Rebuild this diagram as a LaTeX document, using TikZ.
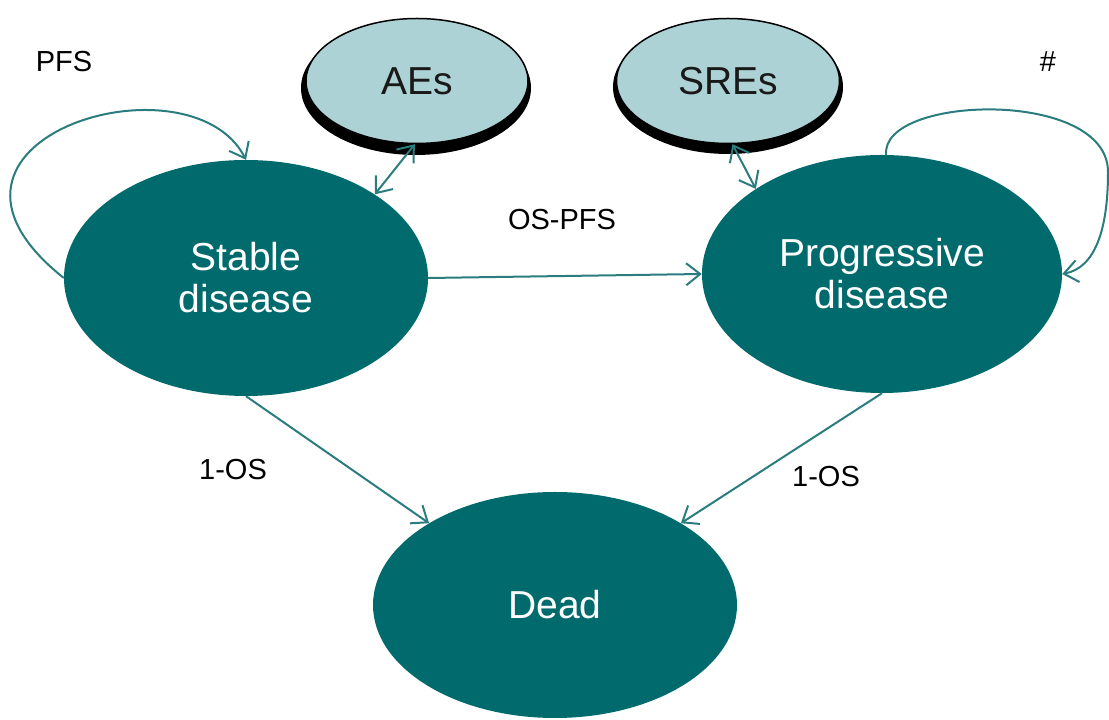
\documentclass[tikz,border=0pt]{standalone}
\usepackage{fontspec}
\setmainfont{Liberation Sans}
\usetikzlibrary{shapes.geometric,arrows.meta}
\definecolor{dteal}{HTML}{006A6C}
\definecolor{lteal}{HTML}{ADD2D6}
\definecolor{ateal}{HTML}{2B7C7E}

\begin{document}
\begin{tikzpicture}[x=1pt,y=1pt,
	state/.style={ellipse,fill=dteal,text=white,align=center,inner sep=0pt,font=\fontsize{39}{42}\selectfont},
	event/.style={ellipse,fill=lteal,draw=black,line width=1.5pt,text=black!90,inner sep=0pt,font=\fontsize{39}{42}\selectfont},
	shad/.style={ellipse,fill=black,inner sep=0pt},
	lbl/.style={font=\fontsize{29}{32}\selectfont},
	tr/.style={draw=ateal,line width=2pt,-{Straight Barb[length=14pt,width=22pt]}},
	tr2/.style={tr,{Straight Barb[length=14pt,width=22pt]}-{Straight Barb[length=14pt,width=22pt]}}]
	\useasboundingbox (0,0) rectangle (1109,720);
	% states
	\node[state,minimum width=364,minimum height=236](s)at(246,442){Stable\\disease};
	\node[state,minimum width=360,minimum height=238](p)at(882,446){Progressive\\disease};
	\node[state,minimum width=364,minimum height=226](d)at(555,115){Dead};
	\node[shad,minimum width=230,minimum height=134](ae0)at(416,632){};
	\node[shad,minimum width=230,minimum height=134](sre0)at(728,633){};
	\node[event,minimum width=222,minimum height=125](ae)at(417,639){AEs};
	\node[event,minimum width=223,minimum height=125](sre)at(728,639){SREs};
	% labels
	\node[lbl](l1)at(64,658){PFS};
	\node[lbl](l2)at(562,500){OS-PFS};
	\node[lbl](l3)at(1048,658){\#};
	\node[lbl](l4)at(233,250){1-OS};
	\node[lbl](l5)at(826,243){1-OS};
	% transitions
	\draw[tr](s.east)--(p.west);
	\draw[tr](s.south)--(d.147);
	\draw[tr](p.south)--(d.33);
	\draw[tr2](ae.-92)--(s.33);
	\draw[tr2](sre.-86)--(p.146);
	\draw[tr](s.west)..controls(-110,580)and(190,670)..(s.north);
	\draw[tr](p.88)..controls(880,625)and(1108,632)..(1108,548)
		..controls(1108,490)and(1095,452)..(p.east);
\end{tikzpicture}
\end{document}
